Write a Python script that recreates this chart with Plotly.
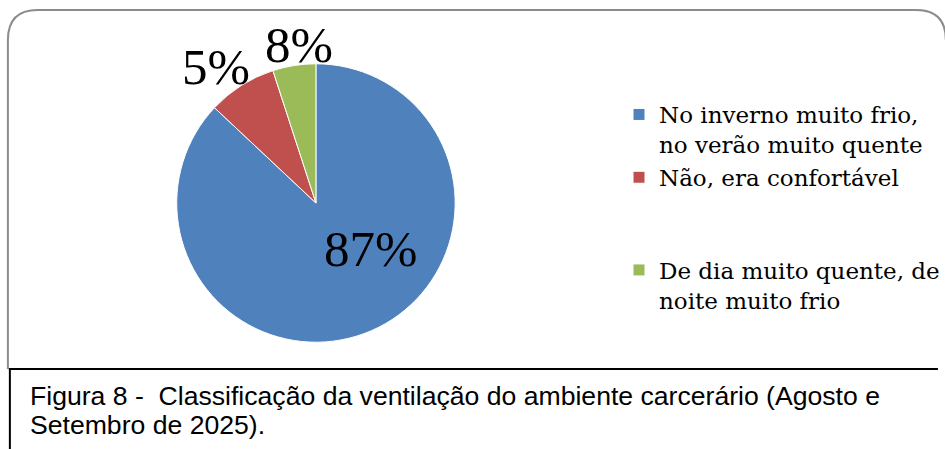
import plotly.graph_objects as go

categories = ["No inverno muito frio,<br>no verão muito quente",
              "Não, era confortável<br> <br> ",
              "De dia muito quente, de<br>noite muito frio"]
values = [87, 8, 5]
label_texts = ["87%", "5%", "8%"]
colors = ["#4F81BD", "#C0504D", "#9BBB59"]
caption_lines = ["Figura 8 -  Classificação da ventilação do ambiente carcerário (Agosto e",
                 "Setembro de 2025)."]

W, H = 945, 449
def px(x): return x / W
def py(y): return 1 - y / H

fig = go.Figure(go.Pie(
    labels=categories, values=values,
    textinfo="none",
    sort=False, direction="clockwise", rotation=0,
    marker=dict(colors=colors, line=dict(color="white", width=1)),
    domain=dict(x=[px(179), px(461)], y=[py(344), py(62)]),
    hoverinfo="label+percent",
))

# data-label placement (pixel positions of the label centres)
label_pos = [(375, 249), (219, 67), (303, 45)]
annotations = []
for t, (lx, ly) in zip(label_texts, label_pos):
    annotations.append(dict(xref="paper", yref="paper", x=px(lx), y=py(ly),
                            xanchor="center", yanchor="middle", showarrow=False, text=t,
                            font=dict(family="Liberation Serif", size=51, color="black")))
for i, line in enumerate(caption_lines):
    annotations.append(dict(xref="paper", yref="paper", x=px(28), y=py(396 + 29 * i),
                            xanchor="left", yanchor="middle", showarrow=False, text=line,
                            font=dict(family="Liberation Sans", size=26.6, color="black")))

# chart border (rounded top corners) and caption box
r = 30
path = (f"M {px(8)},{py(369)} L {px(8)},{py(10 + r)} "
        f"Q {px(8)},{py(10)} {px(8 + r)},{py(10)} L {px(928)},{py(10)} "
        f"Q {px(958)},{py(10)} {px(958)},{py(40)}")
shapes = [
    dict(type="path", xref="paper", yref="paper", path=path,
         line=dict(color="#8C8C8C", width=2)),
    dict(type="line", xref="paper", yref="paper", x0=px(9), x1=px(950),
         y0=py(369), y1=py(369), line=dict(color="black", width=2)),
    dict(type="line", xref="paper", yref="paper", x0=px(10), x1=px(10),
         y0=py(369), y1=py(455), line=dict(color="black", width=2)),
]

fig.update_layout(
    width=W, height=H, margin=dict(l=0, r=0, t=0, b=0),
    paper_bgcolor="white", plot_bgcolor="white",
    shapes=shapes, annotations=annotations,
    showlegend=True,
    legend=dict(x=px(627), y=py(93), xanchor="left", yanchor="top",
                font=dict(family="DejaVu Serif", size=23, color="black"),
                valign="top", itemwidth=30),
)

fig.write_html("out.html", config={"displayModeBar": False},
               post_script="document.body.style.margin='0';")
